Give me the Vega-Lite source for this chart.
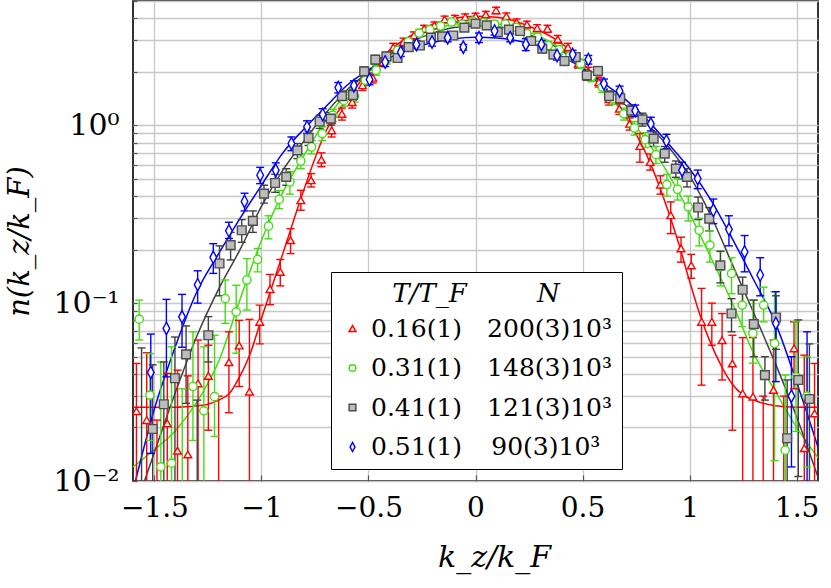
{
  "$schema": "https://vega.github.io/schema/vega-lite/v6.json",
  "width": 685,
  "height": 480,
  "autosize": {"type": "none"},
  "padding": {"left": 133, "top": 1, "right": 13, "bottom": 107},
  "config": {
    "font": "DejaVu Serif",
    "view": {"stroke": "black", "strokeWidth": 1.6},
    "axis": {"domain": false, "ticks": true, "tickSize": -6, "tickColor": "#555555", "tickWidth": 1.2, "gridColor": "#c8c8c8", "gridWidth": 1.3, "labelColor": "black", "titleColor": "black", "titleFontWeight": "normal", "labelFont": "DejaVu Serif", "titleFont": "DejaVu Serif"},
    "legend": {"labelFont": "DejaVu Serif", "titleFont": "DejaVu Serif", "labelFontSize": 25, "titleFontSize": 26, "titleFontStyle": "italic", "titleFontWeight": "normal", "labelColor": "black", "titleColor": "black", "labelLimit": 400, "titleLimit": 400, "strokeColor": "black", "fillColor": "white", "padding": 9, "rowPadding": 13.5, "titlePadding": 9, "titleAnchor": "middle", "labelOffset": 6, "symbolOffset": 0, "symbolSize": 45, "symbolStrokeWidth": 1.5, "cornerRadius": 0}
  },
  "datasets": {
    "fit": [
      {"s":"a","x":-1.6,"y":0.026},{"s":"a","x":-1.5,"y":0.026},{"s":"a","x":-1.4,"y":0.026},{"s":"a","x":-1.3,"y":0.0265},{"s":"a","x":-1.25,"y":0.027},{"s":"a","x":-1.2,"y":0.0285},{"s":"a","x":-1.15,"y":0.031},{"s":"a","x":-1.1,"y":0.039},{"s":"a","x":-1.05,"y":0.053},{"s":"a","x":-1.0,"y":0.082},{"s":"a","x":-0.95,"y":0.125},{"s":"a","x":-0.9,"y":0.19},{"s":"a","x":-0.8,"y":0.44},{"s":"a","x":-0.7,"y":0.92},{"s":"a","x":-0.6,"y":1.4},{"s":"a","x":-0.5,"y":2.0},{"s":"a","x":-0.4,"y":2.65},{"s":"a","x":-0.3,"y":3.2},{"s":"a","x":-0.2,"y":3.7},{"s":"a","x":-0.1,"y":4.0},{"s":"a","x":0,"y":4.1},{"s":"a","x":0.1,"y":4.05},{"s":"a","x":0.2,"y":3.8},{"s":"a","x":0.3,"y":3.4},{"s":"a","x":0.4,"y":2.9},{"s":"a","x":0.5,"y":2.25},{"s":"a","x":0.6,"y":1.62},{"s":"a","x":0.7,"y":1.12},{"s":"a","x":0.8,"y":0.68},{"s":"a","x":0.9,"y":0.33},{"s":"a","x":0.95,"y":0.215},{"s":"a","x":1.0,"y":0.133},{"s":"a","x":1.05,"y":0.085},{"s":"a","x":1.1,"y":0.059},{"s":"a","x":1.15,"y":0.044},{"s":"a","x":1.2,"y":0.035},{"s":"a","x":1.25,"y":0.0305},{"s":"a","x":1.3,"y":0.0285},{"s":"a","x":1.4,"y":0.0265},{"s":"a","x":1.5,"y":0.026},{"s":"a","x":1.6,"y":0.026},
      {"s":"b","x":-1.6,"y":0.012},{"s":"b","x":-1.5,"y":0.015},{"s":"b","x":-1.4,"y":0.0193},{"s":"b","x":-1.3,"y":0.028},{"s":"b","x":-1.2,"y":0.047},{"s":"b","x":-1.1,"y":0.105},{"s":"b","x":-1.0,"y":0.225},{"s":"b","x":-0.9,"y":0.42},{"s":"b","x":-0.8,"y":0.68},{"s":"b","x":-0.7,"y":1.07},{"s":"b","x":-0.6,"y":1.52},{"s":"b","x":-0.5,"y":2.0},{"s":"b","x":-0.4,"y":2.55},{"s":"b","x":-0.3,"y":3.05},{"s":"b","x":-0.2,"y":3.45},{"s":"b","x":-0.1,"y":3.7},{"s":"b","x":0,"y":3.78},{"s":"b","x":0.1,"y":3.72},{"s":"b","x":0.2,"y":3.5},{"s":"b","x":0.3,"y":3.15},{"s":"b","x":0.4,"y":2.7},{"s":"b","x":0.5,"y":2.15},{"s":"b","x":0.6,"y":1.6},{"s":"b","x":0.7,"y":1.15},{"s":"b","x":0.8,"y":0.82},{"s":"b","x":0.9,"y":0.535},{"s":"b","x":1.0,"y":0.32},{"s":"b","x":1.1,"y":0.18},{"s":"b","x":1.2,"y":0.1},{"s":"b","x":1.3,"y":0.052},{"s":"b","x":1.4,"y":0.032},{"s":"b","x":1.5,"y":0.02},{"s":"b","x":1.6,"y":0.0135},
      {"s":"c","x":-1.6,"y":0.0065},{"s":"c","x":-1.5,"y":0.0145},{"s":"c","x":-1.4,"y":0.032},{"s":"c","x":-1.3,"y":0.066},{"s":"c","x":-1.2,"y":0.12},{"s":"c","x":-1.1,"y":0.2},{"s":"c","x":-1.0,"y":0.35},{"s":"c","x":-0.9,"y":0.56},{"s":"c","x":-0.8,"y":0.82},{"s":"c","x":-0.7,"y":1.17},{"s":"c","x":-0.6,"y":1.58},{"s":"c","x":-0.5,"y":2.0},{"s":"c","x":-0.4,"y":2.5},{"s":"c","x":-0.3,"y":2.95},{"s":"c","x":-0.2,"y":3.3},{"s":"c","x":-0.1,"y":3.55},{"s":"c","x":0,"y":3.62},{"s":"c","x":0.1,"y":3.58},{"s":"c","x":0.2,"y":3.4},{"s":"c","x":0.3,"y":3.05},{"s":"c","x":0.4,"y":2.65},{"s":"c","x":0.5,"y":2.1},{"s":"c","x":0.6,"y":1.62},{"s":"c","x":0.7,"y":1.3},{"s":"c","x":0.8,"y":1.02},{"s":"c","x":0.9,"y":0.76},{"s":"c","x":1.0,"y":0.52},{"s":"c","x":1.1,"y":0.31},{"s":"c","x":1.2,"y":0.165},{"s":"c","x":1.3,"y":0.088},{"s":"c","x":1.4,"y":0.046},{"s":"c","x":1.5,"y":0.023},{"s":"c","x":1.6,"y":0.0105},
      {"s":"d","x":-1.6,"y":0.0088},{"s":"d","x":-1.5,"y":0.0254},{"s":"d","x":-1.4,"y":0.058},{"s":"d","x":-1.3,"y":0.117},{"s":"d","x":-1.2,"y":0.19},{"s":"d","x":-1.1,"y":0.3},{"s":"d","x":-1.0,"y":0.46},{"s":"d","x":-0.9,"y":0.7},{"s":"d","x":-0.8,"y":0.957},{"s":"d","x":-0.7,"y":1.27},{"s":"d","x":-0.6,"y":1.68},{"s":"d","x":-0.5,"y":2.05},{"s":"d","x":-0.4,"y":2.4},{"s":"d","x":-0.3,"y":2.7},{"s":"d","x":-0.2,"y":2.92},{"s":"d","x":-0.1,"y":3.07},{"s":"d","x":0,"y":3.13},{"s":"d","x":0.1,"y":3.1},{"s":"d","x":0.2,"y":2.98},{"s":"d","x":0.3,"y":2.78},{"s":"d","x":0.4,"y":2.45},{"s":"d","x":0.5,"y":2.1},{"s":"d","x":0.6,"y":1.72},{"s":"d","x":0.7,"y":1.4},{"s":"d","x":0.8,"y":1.08},{"s":"d","x":0.9,"y":0.79},{"s":"d","x":1.0,"y":0.57},{"s":"d","x":1.1,"y":0.38},{"s":"d","x":1.2,"y":0.23},{"s":"d","x":1.3,"y":0.135},{"s":"d","x":1.4,"y":0.078},{"s":"d","x":1.5,"y":0.036},{"s":"d","x":1.6,"y":0.0155}
    ],
    "pts": [
      {"s":"a","x":-1.584,"y":0.0247,"lo":0.003,"hi":0.0458},
      {"s":"a","x":-1.536,"y":0.022,"lo":0.001,"hi":0.0526},
      {"s":"a","x":-1.488,"y":0.005,"lo":0.001,"hi":0.022},
      {"s":"a","x":-1.44,"y":0.0211,"lo":0.001,"hi":0.0403},
      {"s":"a","x":-1.392,"y":0.0148,"lo":0.001,"hi":0.042},
      {"s":"a","x":-1.344,"y":0.0141,"lo":0.001,"hi":0.039},
      {"s":"a","x":-1.296,"y":0.0354,"lo":0.001,"hi":0.062},
      {"s":"a","x":-1.248,"y":0.039,"lo":0.0193,"hi":0.058},
      {"s":"a","x":-1.2,"y":0.004,"lo":0.001,"hi":0.03},
      {"s":"a","x":-1.152,"y":0.0466,"lo":0.0242,"hi":0.069},
      {"s":"a","x":-1.104,"y":0.0578,"lo":0.034,"hi":0.08},
      {"s":"a","x":-1.056,"y":0.0318,"lo":0.001,"hi":0.081},
      {"s":"a","x":-1.008,"y":0.0785,"lo":0.059,"hi":0.0975},
      {"s":"a","x":-0.96,"y":0.12,"lo":0.098,"hi":0.145},
      {"s":"a","x":-0.912,"y":0.15,"lo":0.125,"hi":0.176},
      {"s":"a","x":-0.864,"y":0.226,"lo":0.19,"hi":0.262},
      {"s":"a","x":-0.816,"y":0.379,"lo":0.333,"hi":0.431},
      {"s":"a","x":-0.768,"y":0.491,"lo":0.45,"hi":0.535},
      {"s":"a","x":-0.72,"y":0.641,"lo":0.585,"hi":0.7},
      {"s":"a","x":-0.672,"y":0.937,"lo":0.86,"hi":1.02},
      {"s":"a","x":-0.624,"y":1.16,"lo":1.07,"hi":1.25},
      {"s":"a","x":-0.576,"y":1.35,"lo":1.25,"hi":1.45},
      {"s":"a","x":-0.528,"y":1.68,"lo":1.57,"hi":1.79},
      {"s":"a","x":-0.48,"y":1.85,"lo":1.73,"hi":1.97},
      {"s":"a","x":-0.432,"y":2.27,"lo":2.14,"hi":2.4},
      {"s":"a","x":-0.384,"y":2.75,"lo":2.61,"hi":2.89},
      {"s":"a","x":-0.336,"y":2.94,"lo":2.79,"hi":3.09},
      {"s":"a","x":-0.288,"y":3.2,"lo":3.05,"hi":3.35},
      {"s":"a","x":-0.24,"y":3.49,"lo":3.33,"hi":3.65},
      {"s":"a","x":-0.192,"y":3.65,"lo":3.49,"hi":3.81},
      {"s":"a","x":-0.144,"y":3.94,"lo":3.77,"hi":4.11},
      {"s":"a","x":-0.096,"y":3.98,"lo":3.81,"hi":4.15},
      {"s":"a","x":-0.048,"y":4.06,"lo":3.89,"hi":4.23},
      {"s":"a","x":0.0,"y":4.1,"lo":3.93,"hi":4.27},
      {"s":"a","x":0.048,"y":4.2,"lo":4.03,"hi":4.37},
      {"s":"a","x":0.096,"y":4.43,"lo":4.25,"hi":4.61},
      {"s":"a","x":0.144,"y":4.11,"lo":3.94,"hi":4.28},
      {"s":"a","x":0.192,"y":3.8,"lo":3.64,"hi":3.96},
      {"s":"a","x":0.24,"y":3.69,"lo":3.53,"hi":3.85},
      {"s":"a","x":0.288,"y":3.52,"lo":3.36,"hi":3.68},
      {"s":"a","x":0.336,"y":3.49,"lo":3.33,"hi":3.65},
      {"s":"a","x":0.384,"y":3.05,"lo":2.9,"hi":3.2},
      {"s":"a","x":0.432,"y":2.75,"lo":2.61,"hi":2.89},
      {"s":"a","x":0.48,"y":2.22,"lo":2.09,"hi":2.35},
      {"s":"a","x":0.528,"y":2.0,"lo":1.88,"hi":2.12},
      {"s":"a","x":0.576,"y":1.75,"lo":1.64,"hi":1.86},
      {"s":"a","x":0.624,"y":1.4,"lo":1.3,"hi":1.5},
      {"s":"a","x":0.672,"y":1.24,"lo":1.15,"hi":1.33},
      {"s":"a","x":0.72,"y":1.02,"lo":0.94,"hi":1.1},
      {"s":"a","x":0.768,"y":0.765,"lo":0.62,"hi":0.9},
      {"s":"a","x":0.816,"y":0.622,"lo":0.56,"hi":0.69},
      {"s":"a","x":0.864,"y":0.464,"lo":0.41,"hi":0.52},
      {"s":"a","x":0.912,"y":0.312,"lo":0.246,"hi":0.371},
      {"s":"a","x":0.96,"y":0.203,"lo":0.17,"hi":0.235},
      {"s":"a","x":1.008,"y":0.163,"lo":0.138,"hi":0.188},
      {"s":"a","x":1.056,"y":0.0785,"lo":0.0346,"hi":0.121},
      {"s":"a","x":1.104,"y":0.0785,"lo":0.058,"hi":0.1},
      {"s":"a","x":1.152,"y":0.062,"lo":0.037,"hi":0.0874},
      {"s":"a","x":1.2,"y":0.0458,"lo":0.0193,"hi":0.066},
      {"s":"a","x":1.248,"y":0.0311,"lo":0.001,"hi":0.064},
      {"s":"a","x":1.296,"y":0.0298,"lo":0.001,"hi":0.064},
      {"s":"a","x":1.344,"y":0.006,"lo":0.001,"hi":0.03},
      {"s":"a","x":1.392,"y":0.0325,"lo":0.003,"hi":0.062},
      {"s":"a","x":1.44,"y":0.007,"lo":0.001,"hi":0.03},
      {"s":"a","x":1.488,"y":0.0557,"lo":0.033,"hi":0.0785},
      {"s":"a","x":1.536,"y":0.0153,"lo":0.001,"hi":0.051},
      {"s":"a","x":1.584,"y":0.024,"lo":0.002,"hi":0.0458},

      {"s":"b","x":-1.571,"y":0.0813,"lo":0.0621,"hi":0.104},
      {"s":"b","x":-1.521,"y":0.0304,"lo":0.0169,"hi":0.052},
      {"s":"b","x":-1.47,"y":0.012,"lo":0.001,"hi":0.0467},
      {"s":"b","x":-1.42,"y":0.0126,"lo":0.001,"hi":0.0568},
      {"s":"b","x":-1.37,"y":0.006,"lo":0.001,"hi":0.033},
      {"s":"b","x":-1.32,"y":0.034,"lo":0.0169,"hi":0.069},
      {"s":"b","x":-1.269,"y":0.0248,"lo":0.001,"hi":0.0568},
      {"s":"b","x":-1.219,"y":0.0298,"lo":0.0178,"hi":0.066},
      {"s":"b","x":-1.169,"y":0.106,"lo":0.077,"hi":0.135},
      {"s":"b","x":-1.118,"y":0.0893,"lo":0.0523,"hi":0.126},
      {"s":"b","x":-1.068,"y":0.135,"lo":0.0915,"hi":0.178},
      {"s":"b","x":-1.018,"y":0.176,"lo":0.15,"hi":0.203},
      {"s":"b","x":-0.967,"y":0.271,"lo":0.23,"hi":0.31},
      {"s":"b","x":-0.917,"y":0.383,"lo":0.34,"hi":0.43},
      {"s":"b","x":-0.867,"y":0.48,"lo":0.41,"hi":0.55},
      {"s":"b","x":-0.816,"y":0.63,"lo":0.57,"hi":0.69},
      {"s":"b","x":-0.766,"y":0.755,"lo":0.69,"hi":0.82},
      {"s":"b","x":-0.716,"y":0.898,"lo":0.82,"hi":0.98},
      {"s":"b","x":-0.666,"y":1.14,"lo":1.05,"hi":1.23},
      {"s":"b","x":-0.615,"y":1.38,"lo":1.28,"hi":1.48},
      {"s":"b","x":-0.565,"y":1.46,"lo":1.35,"hi":1.57},
      {"s":"b","x":-0.515,"y":1.79,"lo":1.67,"hi":1.91},
      {"s":"b","x":-0.464,"y":2.04,"lo":1.91,"hi":2.17},
      {"s":"b","x":-0.414,"y":2.35,"lo":2.21,"hi":2.49},
      {"s":"b","x":-0.364,"y":2.64,"lo":2.49,"hi":2.79},
      {"s":"b","x":-0.313,"y":2.95,"lo":2.8,"hi":3.1},
      {"s":"b","x":-0.263,"y":3.3,"lo":3.14,"hi":3.46},
      {"s":"b","x":-0.213,"y":3.45,"lo":3.28,"hi":3.62},
      {"s":"b","x":-0.163,"y":3.62,"lo":3.45,"hi":3.79},
      {"s":"b","x":-0.112,"y":3.81,"lo":3.63,"hi":3.99},
      {"s":"b","x":-0.062,"y":3.7,"lo":3.53,"hi":3.87},
      {"s":"b","x":-0.012,"y":3.85,"lo":3.67,"hi":4.03},
      {"s":"b","x":0.039,"y":3.78,"lo":3.6,"hi":3.96},
      {"s":"b","x":0.089,"y":3.7,"lo":3.53,"hi":3.87},
      {"s":"b","x":0.139,"y":3.72,"lo":3.55,"hi":3.89},
      {"s":"b","x":0.19,"y":3.55,"lo":3.38,"hi":3.72},
      {"s":"b","x":0.24,"y":3.27,"lo":3.11,"hi":3.43},
      {"s":"b","x":0.29,"y":3.13,"lo":2.97,"hi":3.29},
      {"s":"b","x":0.34,"y":2.81,"lo":2.66,"hi":2.96},
      {"s":"b","x":0.391,"y":2.66,"lo":2.51,"hi":2.81},
      {"s":"b","x":0.441,"y":2.45,"lo":2.31,"hi":2.59},
      {"s":"b","x":0.491,"y":2.22,"lo":2.09,"hi":2.35},
      {"s":"b","x":0.542,"y":1.88,"lo":1.76,"hi":2.0},
      {"s":"b","x":0.592,"y":1.64,"lo":1.53,"hi":1.75},
      {"s":"b","x":0.642,"y":1.41,"lo":1.31,"hi":1.51},
      {"s":"b","x":0.693,"y":1.16,"lo":1.07,"hi":1.25},
      {"s":"b","x":0.743,"y":0.966,"lo":0.88,"hi":1.05},
      {"s":"b","x":0.793,"y":0.83,"lo":0.75,"hi":0.91},
      {"s":"b","x":0.843,"y":0.684,"lo":0.61,"hi":0.76},
      {"s":"b","x":0.894,"y":0.464,"lo":0.4,"hi":0.53},
      {"s":"b","x":0.944,"y":0.437,"lo":0.38,"hi":0.5},
      {"s":"b","x":0.994,"y":0.348,"lo":0.29,"hi":0.4},
      {"s":"b","x":1.045,"y":0.257,"lo":0.21,"hi":0.3},
      {"s":"b","x":1.095,"y":0.212,"lo":0.17,"hi":0.255},
      {"s":"b","x":1.145,"y":0.16,"lo":0.125,"hi":0.195},
      {"s":"b","x":1.196,"y":0.147,"lo":0.113,"hi":0.18},
      {"s":"b","x":1.246,"y":0.0975,"lo":0.0738,"hi":0.123},
      {"s":"b","x":1.296,"y":0.0676,"lo":0.046,"hi":0.104},
      {"s":"b","x":1.346,"y":0.0975,"lo":0.0785,"hi":0.123},
      {"s":"b","x":1.397,"y":0.0594,"lo":0.013,"hi":0.116},
      {"s":"b","x":1.447,"y":0.0149,"lo":0.001,"hi":0.0394},
      {"s":"b","x":1.497,"y":0.0385,"lo":0.019,"hi":0.0785},
      {"s":"b","x":1.548,"y":0.03,"lo":0.012,"hi":0.05},

      {"s":"c","x":-1.56,"y":0.008,"lo":0.001,"hi":0.056},
      {"s":"c","x":-1.508,"y":0.0196,"lo":0.001,"hi":0.045},
      {"s":"c","x":-1.456,"y":0.027,"lo":0.001,"hi":0.0467},
      {"s":"c","x":-1.404,"y":0.0378,"lo":0.001,"hi":0.0645},
      {"s":"c","x":-1.352,"y":0.0515,"lo":0.0273,"hi":0.0745},
      {"s":"c","x":-1.3,"y":0.006,"lo":0.001,"hi":0.0285},
      {"s":"c","x":-1.248,"y":0.066,"lo":0.0467,"hi":0.084},
      {"s":"c","x":-1.196,"y":0.167,"lo":0.11,"hi":0.21},
      {"s":"c","x":-1.144,"y":0.212,"lo":0.175,"hi":0.25},
      {"s":"c","x":-1.092,"y":0.257,"lo":0.22,"hi":0.295},
      {"s":"c","x":-1.04,"y":0.29,"lo":0.25,"hi":0.33},
      {"s":"c","x":-0.988,"y":0.413,"lo":0.365,"hi":0.46},
      {"s":"c","x":-0.936,"y":0.474,"lo":0.42,"hi":0.53},
      {"s":"c","x":-0.884,"y":0.513,"lo":0.46,"hi":0.57},
      {"s":"c","x":-0.832,"y":0.723,"lo":0.65,"hi":0.79},
      {"s":"c","x":-0.78,"y":0.849,"lo":0.77,"hi":0.93},
      {"s":"c","x":-0.728,"y":1.05,"lo":0.96,"hi":1.14},
      {"s":"c","x":-0.676,"y":1.09,"lo":1.0,"hi":1.18},
      {"s":"c","x":-0.624,"y":1.46,"lo":1.36,"hi":1.56},
      {"s":"c","x":-0.572,"y":1.48,"lo":1.38,"hi":1.58},
      {"s":"c","x":-0.52,"y":2.01,"lo":1.89,"hi":2.13},
      {"s":"c","x":-0.468,"y":2.34,"lo":2.21,"hi":2.47},
      {"s":"c","x":-0.416,"y":2.44,"lo":2.31,"hi":2.57},
      {"s":"c","x":-0.364,"y":2.39,"lo":2.26,"hi":2.52},
      {"s":"c","x":-0.312,"y":2.75,"lo":2.61,"hi":2.89},
      {"s":"c","x":-0.26,"y":2.81,"lo":2.67,"hi":2.95},
      {"s":"c","x":-0.208,"y":3.11,"lo":2.96,"hi":3.26},
      {"s":"c","x":-0.156,"y":3.16,"lo":3.01,"hi":3.31},
      {"s":"c","x":-0.104,"y":3.2,"lo":3.05,"hi":3.35},
      {"s":"c","x":-0.052,"y":3.54,"lo":3.38,"hi":3.7},
      {"s":"c","x":0.0,"y":3.73,"lo":3.57,"hi":3.89},
      {"s":"c","x":0.052,"y":3.65,"lo":3.49,"hi":3.81},
      {"s":"c","x":0.104,"y":3.34,"lo":3.18,"hi":3.5},
      {"s":"c","x":0.156,"y":3.45,"lo":3.29,"hi":3.61},
      {"s":"c","x":0.208,"y":3.39,"lo":3.23,"hi":3.55},
      {"s":"c","x":0.26,"y":2.98,"lo":2.83,"hi":3.13},
      {"s":"c","x":0.312,"y":2.7,"lo":2.56,"hi":2.84},
      {"s":"c","x":0.364,"y":2.5,"lo":2.37,"hi":2.63},
      {"s":"c","x":0.416,"y":2.3,"lo":2.17,"hi":2.43},
      {"s":"c","x":0.468,"y":2.42,"lo":2.29,"hi":2.55},
      {"s":"c","x":0.52,"y":1.91,"lo":1.79,"hi":2.03},
      {"s":"c","x":0.572,"y":2.02,"lo":1.9,"hi":2.14},
      {"s":"c","x":0.624,"y":1.46,"lo":1.36,"hi":1.56},
      {"s":"c","x":0.676,"y":1.42,"lo":1.32,"hi":1.52},
      {"s":"c","x":0.728,"y":1.21,"lo":1.12,"hi":1.3},
      {"s":"c","x":0.78,"y":1.08,"lo":0.99,"hi":1.17},
      {"s":"c","x":0.832,"y":0.842,"lo":0.76,"hi":0.92},
      {"s":"c","x":0.884,"y":0.693,"lo":0.62,"hi":0.76},
      {"s":"c","x":0.936,"y":0.571,"lo":0.51,"hi":0.63},
      {"s":"c","x":0.988,"y":0.513,"lo":0.45,"hi":0.57},
      {"s":"c","x":1.04,"y":0.345,"lo":0.295,"hi":0.395},
      {"s":"c","x":1.092,"y":0.299,"lo":0.255,"hi":0.345},
      {"s":"c","x":1.144,"y":0.163,"lo":0.13,"hi":0.196},
      {"s":"c","x":1.196,"y":0.0875,"lo":0.069,"hi":0.106},
      {"s":"c","x":1.248,"y":0.119,"lo":0.0975,"hi":0.14},
      {"s":"c","x":1.3,"y":0.0762,"lo":0.05,"hi":0.104},
      {"s":"c","x":1.352,"y":0.0394,"lo":0.0285,"hi":0.05},
      {"s":"c","x":1.404,"y":0.083,"lo":0.055,"hi":0.11},
      {"s":"c","x":1.456,"y":0.0174,"lo":0.001,"hi":0.037},
      {"s":"c","x":1.508,"y":0.037,"lo":0.0106,"hi":0.0805},
      {"s":"c","x":1.56,"y":0.0289,"lo":0.001,"hi":0.059},

      {"s":"d","x":-1.517,"y":0.0408,"lo":0.0143,"hi":0.067},
      {"s":"d","x":-1.444,"y":0.0721,"lo":0.0385,"hi":0.105},
      {"s":"d","x":-1.371,"y":0.0838,"lo":0.0565,"hi":0.112},
      {"s":"d","x":-1.298,"y":0.127,"lo":0.1,"hi":0.152},
      {"s":"d","x":-1.225,"y":0.181,"lo":0.147,"hi":0.216},
      {"s":"d","x":-1.152,"y":0.255,"lo":0.231,"hi":0.285},
      {"s":"d","x":-1.079,"y":0.373,"lo":0.33,"hi":0.415},
      {"s":"d","x":-1.006,"y":0.524,"lo":0.47,"hi":0.58},
      {"s":"d","x":-0.933,"y":0.559,"lo":0.5,"hi":0.615},
      {"s":"d","x":-0.86,"y":0.79,"lo":0.72,"hi":0.86},
      {"s":"d","x":-0.787,"y":0.979,"lo":0.9,"hi":1.06},
      {"s":"d","x":-0.714,"y":1.15,"lo":1.06,"hi":1.24},
      {"s":"d","x":-0.641,"y":1.63,"lo":1.52,"hi":1.74},
      {"s":"d","x":-0.568,"y":1.67,"lo":1.56,"hi":1.78},
      {"s":"d","x":-0.495,"y":1.81,"lo":1.69,"hi":1.93},
      {"s":"d","x":-0.422,"y":2.27,"lo":2.14,"hi":2.4},
      {"s":"d","x":-0.349,"y":2.58,"lo":2.44,"hi":2.72},
      {"s":"d","x":-0.276,"y":2.85,"lo":2.7,"hi":3.0},
      {"s":"d","x":-0.203,"y":2.94,"lo":2.79,"hi":3.09},
      {"s":"d","x":-0.13,"y":3.11,"lo":2.95,"hi":3.27},
      {"s":"d","x":-0.057,"y":2.75,"lo":2.65,"hi":2.85},
      {"s":"d","x":0.016,"y":3.11,"lo":2.92,"hi":3.3},
      {"s":"d","x":0.089,"y":3.39,"lo":3.22,"hi":3.56},
      {"s":"d","x":0.162,"y":3.11,"lo":2.95,"hi":3.27},
      {"s":"d","x":0.235,"y":2.85,"lo":2.63,"hi":3.07},
      {"s":"d","x":0.308,"y":2.85,"lo":2.7,"hi":3.0},
      {"s":"d","x":0.381,"y":2.47,"lo":2.33,"hi":2.61},
      {"s":"d","x":0.454,"y":2.5,"lo":2.36,"hi":2.64},
      {"s":"d","x":0.527,"y":2.34,"lo":2.21,"hi":2.47},
      {"s":"d","x":0.6,"y":1.71,"lo":1.6,"hi":1.82},
      {"s":"d","x":0.673,"y":1.56,"lo":1.46,"hi":1.66},
      {"s":"d","x":0.746,"y":1.21,"lo":1.12,"hi":1.3},
      {"s":"d","x":0.819,"y":1.02,"lo":0.93,"hi":1.11},
      {"s":"d","x":0.892,"y":0.817,"lo":0.74,"hi":0.89},
      {"s":"d","x":0.965,"y":0.559,"lo":0.5,"hi":0.62},
      {"s":"d","x":1.038,"y":0.502,"lo":0.44,"hi":0.56},
      {"s":"d","x":1.111,"y":0.333,"lo":0.28,"hi":0.385},
      {"s":"d","x":1.184,"y":0.26,"lo":0.21,"hi":0.31},
      {"s":"d","x":1.257,"y":0.194,"lo":0.15,"hi":0.24},
      {"s":"d","x":1.33,"y":0.144,"lo":0.11,"hi":0.18},
      {"s":"d","x":1.403,"y":0.0769,"lo":0.0362,"hi":0.116},
      {"s":"d","x":1.476,"y":0.03,"lo":0.012,"hi":0.05},
      {"s":"d","x":1.549,"y":0.008,"lo":0.001,"hi":0.069}
    ]
  },
  "layer": [
    {
      "data": {"name": "fit"},
      "mark": {"type": "line", "interpolate": "monotone", "strokeWidth": 1.5, "clip": true},
      "encoding": {
        "x": {"field": "x", "type": "quantitative", "scale": {"domain": [-1.6, 1.6], "nice": false, "zero": false},
              "axis": {"values": [-1.5, -1, -0.5, 0, 0.5, 1, 1.5], "format": "~g", "grid": true, "labelFontSize": 28, "labelPadding": 19, "title": "k_z/k_F", "titleFontSize": 30, "titleFontStyle": "italic", "titlePadding": 20, "titleX": 361}},
        "y": {"field": "y", "type": "quantitative", "scale": {"type": "log", "domain": [0.01, 5], "nice": false},
              "axis": {"values": [0.01,0.02,0.03,0.04,0.05,0.06,0.07,0.08,0.09,0.1,0.2,0.3,0.4,0.5,0.6,0.7,0.8,0.9,1,2,3,4,5],
                       "labelExpr": "datum.value == 1 ? '10⁰' : datum.value == 0.1 ? '10⁻¹' : datum.value == 0.01 ? '10⁻²' : ''",
                       "labelOverlap": false, "labelFontSize": 30, "labelPadding": 18, "grid": true, "tickSize": -4,
                       "title": "n(k_z/k_F)", "titleFontSize": 29, "titleFontStyle": "italic", "titlePadding": 18}},
        "color": {"field": "s", "type": "nominal", "scale": {"range": ["#ff0000","#44dd11","#404040","#0000ff"]}, "legend": null}
      }
    },
    {
      "data": {"name": "pts"},
      "mark": {"type": "rule", "strokeWidth": 1.4, "clip": true},
      "encoding": {
        "x": {"field": "x", "type": "quantitative"},
        "y": {"field": "lo", "type": "quantitative", "scale": {"type": "log"}},
        "y2": {"field": "hi"},
        "color": {"field": "s", "type": "nominal", "legend": null}
      }
    },
    {
      "data": {"name": "pts"},
      "mark": {"type": "tick", "orient": "horizontal", "size": 8, "thickness": 1.4, "clip": true, "opacity": 1},
      "encoding": {
        "x": {"field": "x", "type": "quantitative"},
        "y": {"field": "lo", "type": "quantitative", "scale": {"type": "log"}},
        "color": {"field": "s", "type": "nominal", "legend": null}
      }
    },
    {
      "data": {"name": "pts"},
      "mark": {"type": "tick", "orient": "horizontal", "size": 8, "thickness": 1.4, "clip": true, "opacity": 1},
      "encoding": {
        "x": {"field": "x", "type": "quantitative"},
        "y": {"field": "hi", "type": "quantitative", "scale": {"type": "log"}},
        "color": {"field": "s", "type": "nominal", "legend": null}
      }
    },
    {
      "data": {"name": "pts"},
      "mark": {"type": "point", "filled": true, "opacity": 1, "strokeWidth": 1.4, "clip": true},
      "encoding": {
        "x": {"field": "x", "type": "quantitative"},
        "y": {"field": "y", "type": "quantitative", "scale": {"type": "log"}},
        "size": {"field": "s", "type": "nominal", "scale": {"range": [60, 85, 105, 70]}, "legend": null},
        "shape": {"field": "s", "type": "nominal", "scale": {"domain": ["a","b","c","d"], "range": ["triangle-up","circle","square","M0,-1.35L0.72,0L0,1.35L-0.72,0Z"]},
                  "legend": {"orient": "none", "legendX": 198, "legendY": 271, "direction": "vertical",
                             "title": "T/T_F\u2003\u2003\u2002\u2009N",
                             "labelExpr": "datum.label == 'a' ? '0.16(1)\u2003200(3)10³' : datum.label == 'b' ? '0.31(1)\u2003148(3)10³' : datum.label == 'c' ? '0.41(1)\u2003121(3)10³' : '0.51(1)\u2003\u200690(3)10³'"}},
        "fill": {"field": "s", "type": "nominal", "scale": {"domain": ["a","b","c","d"], "range": ["#ffffff","#ffffff","#bdbdbd","#ffffff"]},
                  "legend": {"orient": "none", "legendX": 198, "legendY": 271, "direction": "vertical",
                             "title": "T/T_F\u2003\u2003\u2002\u2009N",
                             "labelExpr": "datum.label == 'a' ? '0.16(1)\u2003200(3)10³' : datum.label == 'b' ? '0.31(1)\u2003148(3)10³' : datum.label == 'c' ? '0.41(1)\u2003121(3)10³' : '0.51(1)\u2003\u200690(3)10³'"}},
        "stroke": {"field": "s", "type": "nominal", "scale": {"domain": ["a","b","c","d"], "range": ["#ff0000","#44dd11","#4d4d4d","#0000ff"]},
                  "legend": {"orient": "none", "legendX": 198, "legendY": 271, "direction": "vertical",
                             "title": "T/T_F\u2003\u2003\u2002\u2009N",
                             "labelExpr": "datum.label == 'a' ? '0.16(1)\u2003200(3)10³' : datum.label == 'b' ? '0.31(1)\u2003148(3)10³' : datum.label == 'c' ? '0.41(1)\u2003121(3)10³' : '0.51(1)\u2003\u200690(3)10³'"}}
      }
    }
  ]
}
